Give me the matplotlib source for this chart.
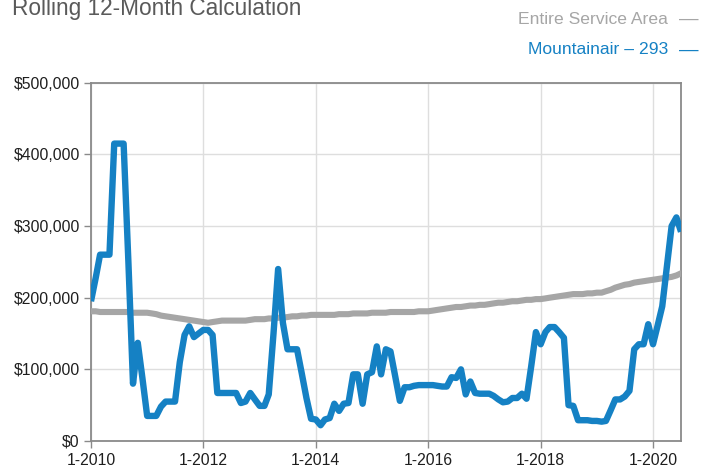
import numpy as np
import pandas as pd
import matplotlib
matplotlib.use("Agg")
import matplotlib.pyplot as plt
from matplotlib.ticker import FuncFormatter

# monthly values, thousands of dollars, Jan 2010 .. Jul 2020
months = pd.date_range("2010-01-01", periods=127, freq="MS")

mountainair = [
    195, 228, 260, 260, 260, 415, 415, 415, 250, 80,
    137, 88, 35, 35, 35, 48, 55, 55, 55, 110,
    148, 160, 145, 150, 155, 155, 148, 67, 67, 67,
    67, 67, 53, 55, 67, 58, 49, 49, 65, 150,
    240, 165, 128, 128, 128, 95, 60, 31, 30, 22,
    30, 32, 52, 42, 52, 53, 93, 93, 52, 93,
    96, 132, 93, 128, 125, 90, 56, 75, 75, 77,
    78, 78, 78, 78, 77, 76, 76, 89, 88, 100,
    65, 83, 67, 66, 66, 66, 63, 58, 54, 55,
    60, 60, 66, 59, 105, 152, 135, 152, 159, 159,
    152, 144, 50, 49, 29, 29, 29, 28, 28, 27,
    28, 43, 58, 58, 62, 70, 128, 135, 135, 163,
    135, 162, 188, 245, 300, 312, 292,
]

service_area = [
    181, 181, 180, 180, 180, 180, 180, 180, 180, 179, 179, 179, 179,
    178, 177, 175, 174, 173, 172, 171, 170, 169, 168, 167, 166, 165,
    166, 167, 168, 168, 168, 168, 168, 168, 169, 170, 170, 170, 171,
    171, 172, 172, 173, 174, 174, 175, 175, 176, 176, 176, 176, 176,
    176, 177, 177, 177, 178, 178, 178, 178, 179, 179, 179, 179, 180,
    180, 180, 180, 180, 180, 181, 181, 181, 182, 183, 184, 185, 186,
    187, 187, 188, 189, 189, 190, 190, 191, 192, 193, 193, 194, 195,
    195, 196, 197, 197, 198, 198, 199, 200, 201, 202, 203, 204, 205,
    205, 205, 206, 206, 207, 207, 209, 211, 214, 216, 218, 219, 221,
    222, 223, 224, 225, 226, 227, 228, 229, 231, 234,
]

tick_years = [2010, 2012, 2014, 2016, 2018, 2020]

blue = "#1581c4"
grey = "#a6a6a6"
spine_col = "#8a8a8a"

plt.rcParams["font.family"] = ["Liberation Sans", "DejaVu Sans"]

fig = plt.figure(figsize=(7.01, 4.68), dpi=100)
ax = fig.add_axes([0.1298, 0.0577, 0.8417, 0.7656])

ax.plot(months, np.array(service_area) * 1000, color=grey, lw=4.4,
        solid_capstyle="round", solid_joinstyle="round", zorder=3)
ax.plot(months, np.array(mountainair) * 1000, color=blue, lw=4.6,
        solid_capstyle="butt", solid_joinstyle="round", zorder=4)

ax.set_ylim(0, 500000)
ax.set_xlim(months[0], months[-1])
ax.set_yticks(np.arange(0, 500001, 100000))
ax.yaxis.set_major_formatter(FuncFormatter(lambda v, p: "${:,.0f}".format(v)))

xt = [pd.Timestamp(year=y, month=1, day=1) for y in tick_years]
ax.set_xticks(xt)
ax.set_xticklabels(["1-%d" % y for y in tick_years])

ax.grid(True, color="#dedede", lw=1.0, zorder=0)
ax.set_axisbelow(True)
for s in ax.spines.values():
    s.set_color(spine_col)
    s.set_linewidth(1.3)
ax.tick_params(axis="both", colors=spine_col, labelcolor="#1e1e1e",
               labelsize=11.3, length=5, width=1.0, direction="out")
ax.tick_params(axis="x", pad=4)
ax.tick_params(axis="y", pad=3)

# title (cut off at top edge in the original) and text legend
fig.text(12 / 701, 1 - 15 / 468, "Rolling 12-Month Calculation",
         fontsize=16.3, color="#5a5a5a", ha="left", va="baseline")
fig.text(668 / 701, 1 - 19 / 468, "Entire Service Area",
         fontsize=12.6, color=grey, ha="right", va="center")
fig.text(679 / 701, 1 - 19 / 468, "\u2014",
         fontsize=14, color=grey, ha="left", va="center")
fig.text(668 / 701, 1 - 50 / 468, "Mountainair \u2013 293",
         fontsize=12.6, color=blue, ha="right", va="center")
fig.text(679 / 701, 1 - 50 / 468, "\u2014",
         fontsize=14, color=blue, ha="left", va="center")

fig.savefig("out.png", dpi=100)
